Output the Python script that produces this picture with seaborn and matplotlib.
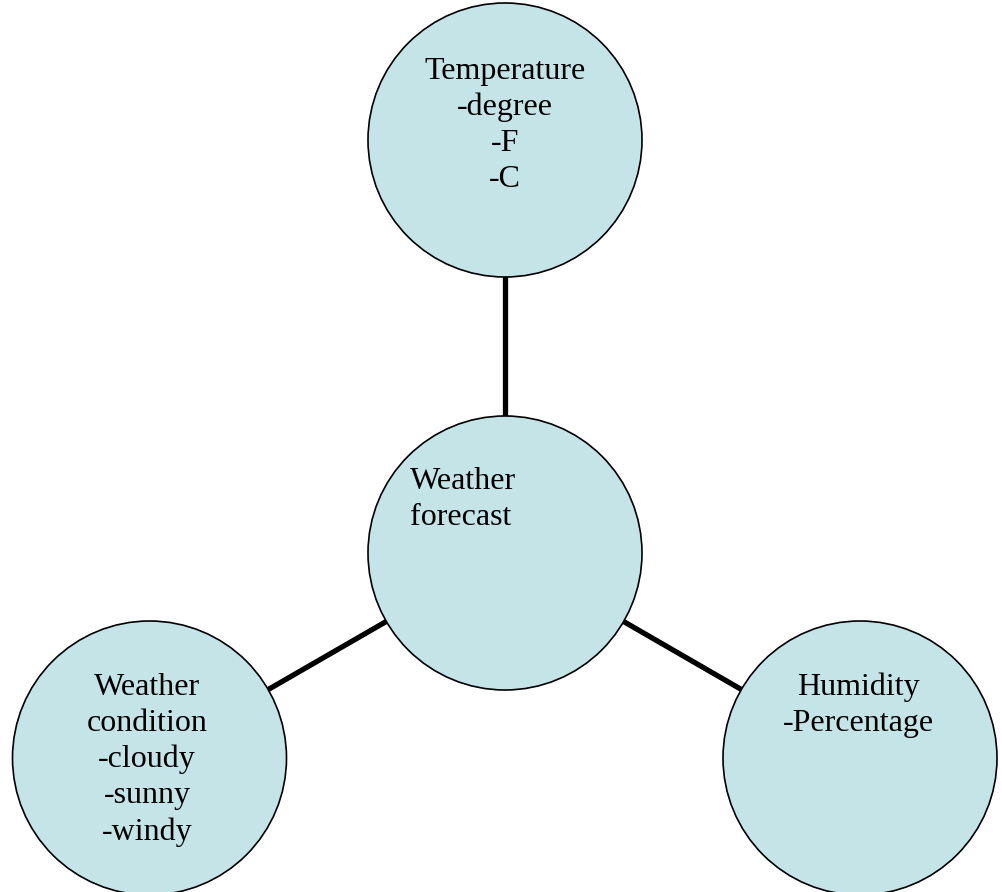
import pandas as pd
import matplotlib.pyplot as plt
from matplotlib.patches import Circle
import seaborn as sns

# Node labels of the mind map
nodes = ['Weather forecast', 'Temperature', 'Weather condition', 'Humidity']
labels = ['Weather\nforecast',
          'Temperature\n-degree\n-F\n-C',
          'Weather\ncondition\n-cloudy\n-sunny\n-windy',
          'Humidity\n-Percentage']
# Edges go from the hub to each branch
edges = [('Weather forecast', 'Temperature'),
         ('Weather forecast', 'Weather condition'),
         ('Weather forecast', 'Humidity')]

# Layout (pixel coordinates, y down)
pos = {'Weather forecast': (505, 553),
       'Temperature': (505, 140),
       'Weather condition': (149.5, 758),
       'Humidity': (860, 758)}
radius = 137
text_pos = {'Weather forecast': (410, 467, 'left'),
            'Temperature': (505, 57, 'center'),
            'Weather condition': (147, 673, 'center'),
            'Humidity': (858, 673, 'center')}

sns.set_theme(style='white')
plt.rcParams['font.family'] = ['Liberation Serif', 'DejaVu Serif']

fig = plt.figure(figsize=(10.02, 8.92), dpi=100)
ax = fig.add_axes([0, 0, 1, 1])

# connectors, drawn under the circles
rows = []
for i, (a, b) in enumerate(edges):
    for n in (a, b):
        rows.append({'edge': i, 'x': pos[n][0], 'y': pos[n][1]})
df = pd.DataFrame(rows)
sns.lineplot(data=df, x='x', y='y', units='edge', estimator=None, sort=False,
             color='black', linewidth=3.8, ax=ax, zorder=1)

for n, lab in zip(nodes, labels):
    ax.add_patch(Circle(pos[n], radius, facecolor='#C5E4E8', edgecolor='black',
                        linewidth=1.2, zorder=2))
    tx, ty, ha = text_pos[n]
    ax.text(tx, ty, lab, ha=ha, va='top', fontsize=23, linespacing=1.31,
            color='black', zorder=3)

ax.set_xlim(0, 1002)
ax.set_ylim(892, 0)
ax.set_aspect('equal')
ax.axis('off')

fig.savefig('out.png', dpi=100, facecolor='white')
